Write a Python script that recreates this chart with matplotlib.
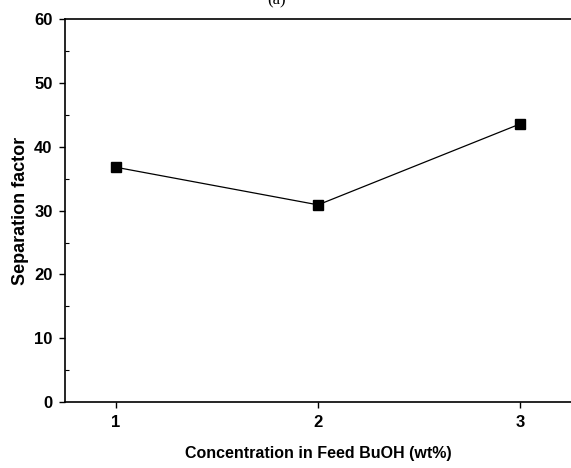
import matplotlib.pyplot as plt
from matplotlib.ticker import MultipleLocator

# separation factor vs BuOH feed concentration
conc = [1, 2, 3]
sep_factor = [36.8, 30.9, 43.6]
xticks = [1, 2, 3]
yticks = [0, 10, 20, 30, 40, 50, 60]

plt.rcParams['font.family'] = ['Liberation Sans', 'DejaVu Sans']

fig = plt.figure(figsize=(5.71, 4.68), dpi=100)
ax = fig.add_axes([0.114, 0.141, 0.886, 0.818])

ax.plot(conc, sep_factor, color='black', lw=0.9, marker='s',
        markersize=7, markerfacecolor='black', markeredgecolor='black')

ax.set_xlim(0.75, 3.25)
ax.set_ylim(0, 60)
ax.set_xticks(xticks)
ax.set_yticks(yticks)
ax.yaxis.set_minor_locator(MultipleLocator(5))
ax.tick_params(axis='both', which='major', direction='out', length=4,
               width=1, labelsize=12)
ax.tick_params(axis='x', which='major', pad=5)
ax.tick_params(axis='y', which='major', pad=5)
ax.tick_params(axis='y', which='minor', direction='in', length=3, width=0.8)
for lab in ax.get_xticklabels() + ax.get_yticklabels():
    lab.set_fontweight('bold')

ax.spines['right'].set_visible(False)
for s in ['left', 'bottom', 'top']:
    ax.spines[s].set_linewidth(1.2)

ax.set_xlabel('Concentration in Feed BuOH (wt%)', fontsize=11.5,
              fontweight='bold', labelpad=12)
ax.set_ylabel('Separation factor', fontsize=13, fontweight='bold', labelpad=4)

fig.text(0.485, 1.0, '(a)', family='Liberation Serif', fontsize=12,
         ha='center', va='center')

fig.savefig('out.png', dpi=100)
